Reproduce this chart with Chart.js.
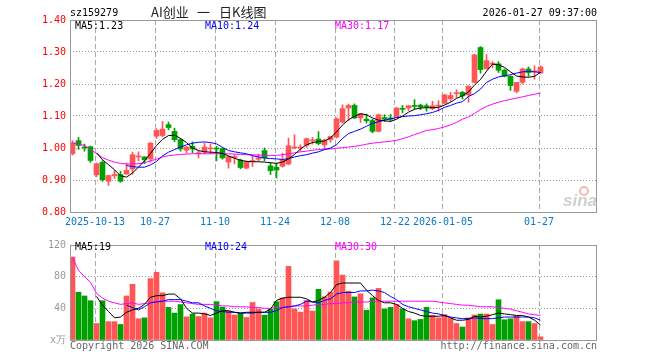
<!DOCTYPE html>
<html>
<head>
<meta charset="utf-8">
<script src="https://cdn.jsdelivr.net/npm/chart.js@4.4.1/dist/chart.umd.min.js"></script>
<style>
  html, body { margin: 0; padding: 0; background: #fff; }
  #wrap { position: relative; width: 660px; height: 360px; }
  #price { position: absolute; left: 0; top: 0; }
  #vol { position: absolute; left: 0; top: 235px; }
</style>
</head>
<body>
<div id="wrap">
  <canvas id="price" width="660" height="235"></canvas>
  <canvas id="vol" width="660" height="125"></canvas>
</div>
<script>
// trading days shown on the chart
const dates = [
  '2025-09-29','2025-09-30','2025-10-09','2025-10-10',
  '2025-10-13','2025-10-14','2025-10-15','2025-10-16','2025-10-17',
  '2025-10-20','2025-10-21','2025-10-22','2025-10-23','2025-10-24',
  '2025-10-27','2025-10-28','2025-10-29','2025-10-30','2025-10-31',
  '2025-11-03','2025-11-04','2025-11-05','2025-11-06','2025-11-07',
  '2025-11-10','2025-11-11','2025-11-12','2025-11-13','2025-11-14',
  '2025-11-17','2025-11-18','2025-11-19','2025-11-20','2025-11-21',
  '2025-11-24','2025-11-25','2025-11-26','2025-11-27','2025-11-28',
  '2025-12-01','2025-12-02','2025-12-03','2025-12-04','2025-12-05',
  '2025-12-08','2025-12-09','2025-12-10','2025-12-11','2025-12-12',
  '2025-12-15','2025-12-16','2025-12-17','2025-12-18','2025-12-19',
  '2025-12-22','2025-12-23','2025-12-24','2025-12-25','2025-12-26',
  '2025-12-29','2025-12-30','2025-12-31',
  '2026-01-05','2026-01-06','2026-01-07','2026-01-08','2026-01-09',
  '2026-01-12','2026-01-13','2026-01-14','2026-01-15','2026-01-16',
  '2026-01-19','2026-01-20','2026-01-21','2026-01-22','2026-01-23',
  '2026-01-26','2026-01-27'
];

const opens = [
  0.982,1.023,1.003,1.004,0.916,0.955,0.896,0.913,0.917,0.919,
  0.934,0.972,0.972,0.966,1.037,1.039,1.073,1.052,1.026,0.993,
  1.005,0.982,0.988,0.997,0.999,0.998,0.956,0.970,0.962,0.937,
  0.958,0.965,0.992,0.944,0.940,0.943,0.950,1.000,1.000,1.008,
  1.022,1.028,1.010,1.026,1.034,1.081,1.125,1.133,1.094,1.090,
  1.086,1.052,1.095,1.094,1.097,1.124,1.125,1.133,1.134,1.131,
  1.123,1.131,1.140,1.154,1.170,1.174,1.166,1.205,1.314,1.248,
  1.262,1.263,1.243,1.224,1.177,1.205,1.247,1.238,1.234
];
const highs = [
  1.023,1.033,1.012,1.006,0.953,0.960,0.915,0.930,0.927,0.953,
  0.987,0.988,0.973,1.018,1.060,1.083,1.081,1.062,1.030,1.005,
  1.019,0.992,1.015,1.013,1.005,1.000,0.975,0.979,0.965,0.960,
  0.974,0.981,1.000,0.953,0.953,0.984,1.031,1.041,1.010,1.031,
  1.033,1.051,1.028,1.037,1.094,1.135,1.137,1.138,1.108,1.106,
  1.090,1.106,1.104,1.105,1.127,1.133,1.133,1.151,1.137,1.138,
  1.146,1.148,1.168,1.174,1.182,1.177,1.195,1.293,1.317,1.292,
  1.270,1.270,1.247,1.226,1.205,1.250,1.253,1.257,1.257
];
const lows = [
  0.978,0.996,0.990,0.955,0.910,0.896,0.883,0.905,0.893,0.917,
  0.918,0.960,0.951,0.955,1.030,1.035,1.057,1.020,0.990,0.984,
  0.985,0.969,0.983,0.982,0.960,0.965,0.937,0.950,0.935,0.935,
  0.942,0.958,0.960,0.917,0.906,0.940,0.948,0.997,0.990,1.002,
  1.012,1.010,0.995,1.018,1.031,1.078,1.086,1.092,1.080,1.078,
  1.047,1.050,1.083,1.083,1.095,1.110,1.117,1.122,1.120,1.115,
  1.120,1.115,1.138,1.146,1.158,1.153,1.143,1.203,1.234,1.246,
  1.250,1.236,1.222,1.180,1.172,1.200,1.224,1.215,1.234
];
const closes = [
  1.016,1.008,1.000,0.961,0.951,0.901,0.914,0.917,0.896,0.930,
  0.979,0.975,0.963,1.015,1.055,1.059,1.064,1.026,0.997,1.003,
  0.997,0.985,1.003,1.000,0.997,0.969,0.973,0.972,0.939,0.958,
  0.960,0.969,0.969,0.929,0.931,0.963,1.007,1.003,1.002,1.029,
  1.025,1.014,1.024,1.036,1.091,1.123,1.133,1.094,1.107,1.085,
  1.052,1.104,1.090,1.090,1.125,1.121,1.132,1.130,1.128,1.129,
  1.132,1.133,1.166,1.164,1.172,1.163,1.193,1.291,1.245,1.273,
  1.264,1.243,1.224,1.195,1.205,1.247,1.236,1.240,1.253
];

const priceMa5 = [
  null,null,null,null,0.985,0.963,0.948,0.932,0.913,0.909,
  0.922,0.940,0.960,0.983,1.008,1.027,1.039,1.040,1.030,1.017,
  1.000,0.992,0.988,0.987,0.986,0.983,0.975,0.968,0.962,0.958,
  0.957,0.957,0.956,0.954,0.952,0.956,0.966,0.980,0.997,1.010,
  1.017,1.020,1.022,1.032,1.050,1.072,1.088,1.099,1.107,1.104,
  1.094,1.087,1.085,1.083,1.090,1.100,1.112,1.121,1.125,1.126,
  1.126,1.127,1.134,1.143,1.155,1.163,1.175,1.197,1.214,1.240,
  1.262,1.260,1.252,1.238,1.225,1.222,1.221,1.224,1.236
];
const priceMa10 = [
  null,null,null,null,null,null,null,null,null,0.945,
  0.942,0.940,0.940,0.947,0.958,0.975,0.987,0.995,1.003,1.010,
  1.015,1.018,1.019,1.017,1.013,1.002,0.992,0.988,0.985,0.982,
  0.976,0.972,0.969,0.967,0.966,0.964,0.967,0.972,0.976,0.979,
  0.984,0.988,0.995,1.000,1.010,1.030,1.045,1.052,1.059,1.068,
  1.077,1.082,1.087,1.091,1.095,1.098,1.100,1.101,1.104,1.107,
  1.111,1.118,1.127,1.133,1.140,1.145,1.161,1.170,1.184,1.205,
  1.215,1.222,1.226,1.229,1.234,1.238,1.239,1.238,1.236
];
const priceMa30 = [
  1.016,1.012,1.008,0.995,0.983,0.970,0.962,0.956,0.952,0.950,
  0.950,0.951,0.954,0.960,0.965,0.972,0.976,0.978,0.980,0.981,
  0.982,0.982,0.982,0.982,0.982,0.982,0.982,0.981,0.980,0.979,
  0.979,0.978,0.977,0.976,0.977,0.979,0.982,0.985,0.988,0.990,
  0.993,0.995,0.996,0.997,0.999,1.001,1.003,1.005,1.008,1.012,
  1.015,1.017,1.019,1.021,1.024,1.029,1.035,1.042,1.048,1.055,
  1.057,1.061,1.066,1.072,1.080,1.090,1.097,1.108,1.120,1.130,
  1.137,1.143,1.148,1.152,1.156,1.160,1.164,1.168,1.172
];

// volume, in 10k shares
const volumes = [
  104.8,60.4,55.6,49.6,20.8,49.6,23.2,23.2,19.6,55.6,
  70.4,26.8,28.0,77.6,85.6,59.6,41.2,34.0,44.8,29.2,
  32.8,29.6,34.0,28.0,48.4,41.4,36.6,31.6,34.0,28.4,
  47.4,39.0,31.4,38.6,48.4,53.0,93.0,39.2,35.2,50.0,
  36.6,64.0,54.6,60.6,100.0,82.0,61.6,54.4,58.4,37.6,
  53.2,65.2,39.2,41.2,44.8,39.2,26.8,24.4,26.0,41.2,
  31.2,28.0,32.0,27.2,20.8,16.4,28.0,31.6,32.8,32.8,
  19.6,50.8,25.6,26.8,30.4,23.2,23.2,20.8,4.0
];
const volMa5 = [
  null,null,null,null,55,44,36,28,29,35,
  38,40,45,54,56,56,58,58,52,40,
  34,34,33,31,34,37,37,35,34,35,
  35,35,35,39,50,53,54,54,54,52,
  48,50,54,60,70,72,72,72,72,63,
  56,50,47,47,45,40,36,34,31,30,
  30,30,31,28,25,25,26,30,29,30,
  32,34,33,32,31,31,29,25,19
];
const volMa10 = [
  null,null,null,null,null,null,null,null,null,44,
  41,38,42,47,48,49,51,51,51,49,
  47,47,43,40,37,36,35,35,34,34,
  34,35,35,35,37,41,42,43,45,49,
  48,47,50,52,58,60,60,60,62,62,
  63,62,60,55,51,45,42,40,38,36,
  34,33,31,29,28,27,27,28,27,27,
  27,28,29,29,29,29,29,28,25
];
const volMa30 = [
  104,88,80,73,59,53,49,47,45,46,
  47,45,46,47,49,49,49,49,48,47,
  46,45,45,45,44,43,43,42,42,42,
  41,41,40,40,41,41,42,43,43,43,
  44,45,45,46,46,47,47,48,48,48,
  49,49,49,49,49,49,49,49,49,49,
  49,48,47,46,45,44,44,43,42,42,
  42,41,40,39,37,35,33,32,31
];

const tickIdx = [4, 14, 24, 34, 44, 54, 62, 78];
const tickLabels = ['2025-10-13','10-27','11-10','11-24','12-08','12-22','2026-01-05','01-27'];
const priceTicks = [0.8, 0.9, 1.0, 1.1, 1.2, 1.3, 1.4];
const volTicks = [0, 40, 80, 120];
const priceMaText = ['MA5:1.23', 'MA10:1.24', 'MA30:1.17'];
const volMaText = ['MA5:19', 'MA10:24', 'MA30:30'];

const UP = '#ff5555', DOWN = '#00a000';
const MA_COLORS = ['#000000', '#0000ff', '#ff00ff'];
const mono = { family: 'DejaVu Sans Mono', size: 10 };
const candleColors = opens.map((o, i) => closes[i] >= o ? UP : DOWN);

// x is the candle index; 6px per day, plot from x=70 to x=597
const X_MIN = -2.5 / 6, X_MAX = (597 - 72.5) / 6;

const pts = arr => arr.map((v, i) => v == null ? null : { x: i, y: v }).filter(Boolean);

function maLine(arr, color) {
  return { type: 'line', data: pts(arr), borderColor: color, borderWidth: 1,
    pointRadius: 0, tension: 0, order: 0 };
}

function xScale(showLabels, height) {
  return {
    type: 'linear', min: X_MIN, max: X_MAX, offset: false,
    afterBuildTicks: s => { s.ticks = tickIdx.map(i => ({ value: i - 0.25 })); },
    afterFit: s => { s.height = height; },
    ticks: { display: showLabels, autoSkip: false, maxRotation: 0, padding: 4,
      color: '#0a78c8', font: mono, callback: (v, k) => tickLabels[k] },
    grid: { color: '#aaa', drawTicks: false, offset: false },
    border: { display: false, dash: [5, 3] }
  };
}

const frame = {
  id: 'frame',
  afterDraw(chart) {
    const { ctx, chartArea: a } = chart;
    ctx.save();
    ctx.strokeStyle = '#999';
    ctx.lineWidth = 1;
    ctx.strokeRect(a.left + 0.5, a.top + 0.5, a.right - a.left - 1, a.bottom - a.top);
    ctx.restore();
  }
};

const priceText = {
  id: 'priceText',
  afterDraw(chart) {
    const ctx = chart.ctx;
    ctx.save();
    ctx.textBaseline = 'middle';
    ctx.font = '10px "DejaVu Sans Mono"';
    ctx.fillStyle = '#000';
    ctx.fillText('sz159279', 70, 13);
    ctx.textAlign = 'right';
    ctx.fillText('2026-01-27 09:37:00', 597, 13);
    ctx.textAlign = 'left';
    [75, 205, 335].forEach((x, k) => {
      ctx.fillStyle = MA_COLORS[k];
      ctx.fillText(priceMaText[k], x, 26);
    });
    ctx.font = '13px "Noto Sans CJK SC"';
    ctx.fillStyle = '#222';
    ctx.fillText('AI创业', 151, 12);
    ctx.fillText('一', 197, 12);
    ctx.fillText('日K线图', 219, 12);
    // sina watermark
    ctx.strokeStyle = '#f3b8b8';
    ctx.lineWidth = 2;
    ctx.beginPath();
    ctx.arc(584, 191, 4, 0, Math.PI * 2);
    ctx.stroke();
    ctx.font = 'italic bold 17px "Liberation Sans"';
    ctx.fillStyle = '#cfcfcf';
    ctx.textAlign = 'right';
    ctx.textBaseline = 'alphabetic';
    ctx.fillText('sina', 597, 206);
    ctx.restore();
  }
};

const volText = {
  id: 'volText',
  afterDraw(chart) {
    const ctx = chart.ctx;
    ctx.save();
    ctx.textBaseline = 'middle';
    ctx.font = '10px "DejaVu Sans Mono"';
    [75, 205, 335].forEach((x, k) => {
      ctx.fillStyle = MA_COLORS[k];
      ctx.fillText(volMaText[k], x, 12);
    });
    ctx.fillStyle = '#666';
    ctx.fillText('Copyright 2026 SINA.COM', 70, 111);
    ctx.textAlign = 'right';
    ctx.fillText('http://finance.sina.com.cn', 597, 111);
    ctx.restore();
  }
};

new Chart(document.getElementById('price'), {
  type: 'bar',
  data: {
    datasets: [
      maLine(priceMa5, MA_COLORS[0]),
      maLine(priceMa10, MA_COLORS[1]),
      maLine(priceMa30, MA_COLORS[2]),
      { label: 'body', data: opens.map((o, i) => ({ x: i, y: [o, closes[i]] })),
        backgroundColor: candleColors, barThickness: 5, minBarLength: 1, grouped: false, order: 1 },
      { label: 'wick', data: lows.map((l, i) => ({ x: i, y: [l, highs[i]] })),
        backgroundColor: candleColors, barThickness: 1, grouped: false, order: 2 }
    ]
  },
  options: {
    responsive: false, animation: false, devicePixelRatio: 1,
    layout: { padding: { left: 0, right: 63, top: 20, bottom: 0 } },
    plugins: { legend: { display: false }, tooltip: { enabled: false } },
    scales: {
      x: xScale(true, 23),
      y: {
        min: 0.8, max: 1.4,
        afterBuildTicks: s => { s.ticks = priceTicks.map(v => ({ value: v })); },
        afterFit: s => { s.width = 70; },
        ticks: { color: '#ff0000', padding: 4, font: mono, callback: v => v.toFixed(2) },
        grid: { color: '#999', drawTicks: false },
        border: { display: false, dash: [1, 2] }
      }
    }
  },
  plugins: [frame, priceText]
});

new Chart(document.getElementById('vol'), {
  type: 'bar',
  data: {
    datasets: [
      maLine(volMa5, MA_COLORS[0]),
      maLine(volMa10, MA_COLORS[1]),
      maLine(volMa30, MA_COLORS[2]),
      { label: 'vol', data: volumes.map((v, i) => ({ x: i, y: v })),
        backgroundColor: candleColors, barThickness: 5, grouped: false, order: 1 }
    ]
  },
  options: {
    responsive: false, animation: false, devicePixelRatio: 1,
    layout: { padding: { left: 0, right: 63, top: 5, bottom: 0 } },
    plugins: { legend: { display: false }, tooltip: { enabled: false } },
    scales: {
      x: xScale(false, 20),
      y: {
        min: 0, max: 120,
        afterBuildTicks: s => { s.ticks = volTicks.map(v => ({ value: v })); },
        afterFit: s => { s.width = 70; },
        ticks: { color: '#999', padding: 4, font: mono, callback: v => v === 0 ? 'x万' : v },
        grid: { color: '#999', drawTicks: false },
        border: { display: false, dash: [1, 2] }
      }
    }
  },
  plugins: [frame, volText]
});
</script>
</body>
</html>
